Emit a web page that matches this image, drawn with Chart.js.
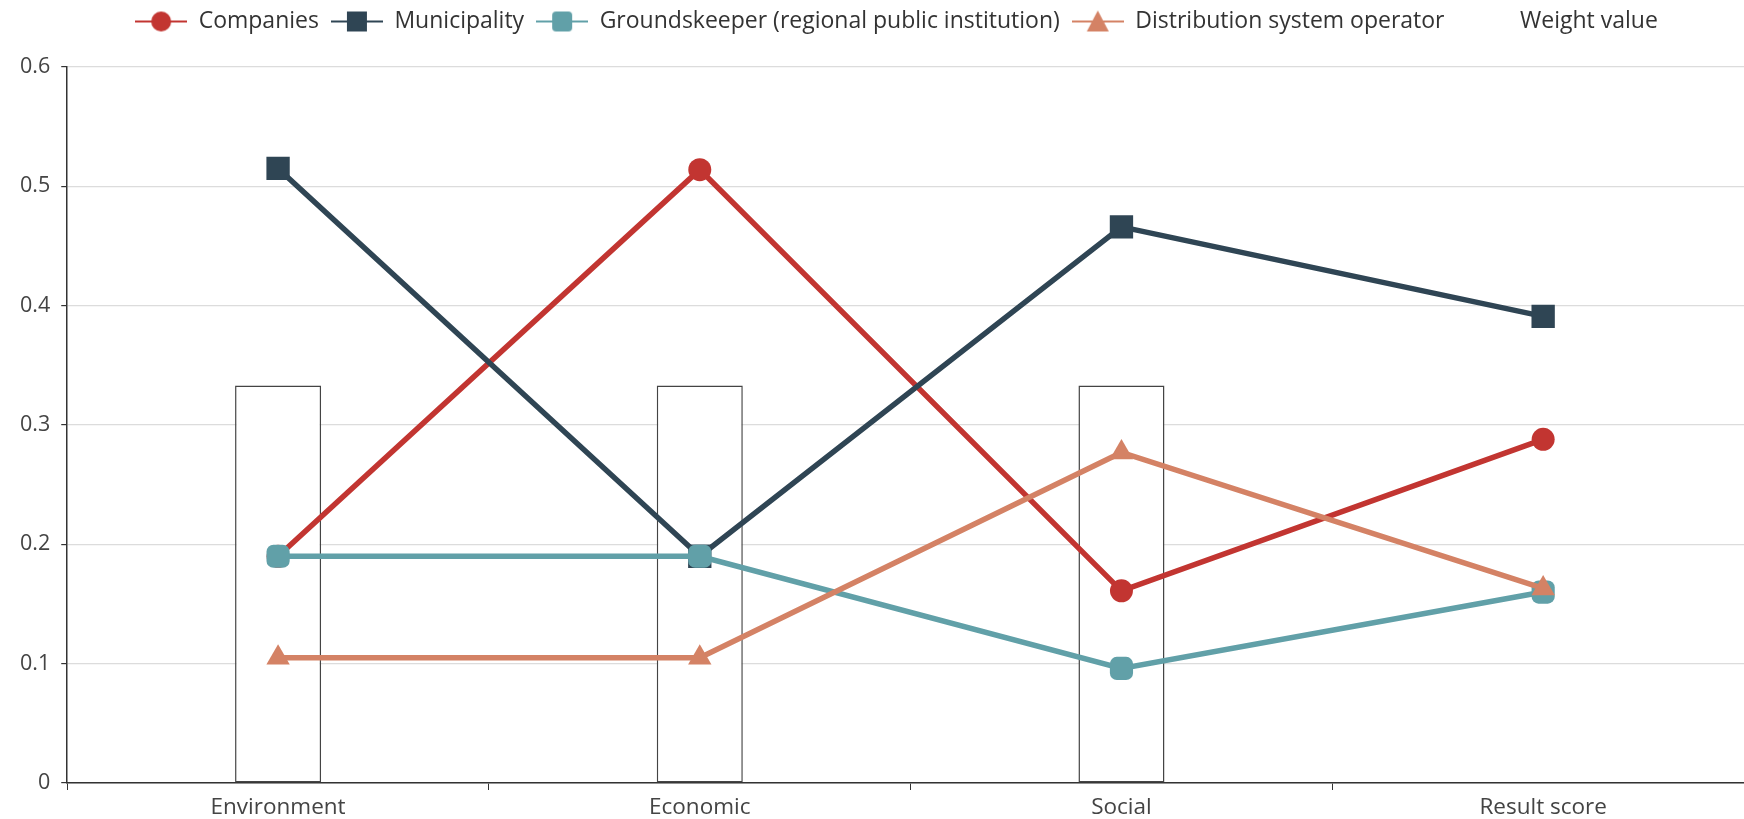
<!DOCTYPE html>
<html>
<head>
<meta charset="utf-8">
<script src="https://cdn.jsdelivr.net/npm/chart.js@4.4.1/dist/chart.umd.min.js"></script>
<style>
  html, body { margin: 0; padding: 0; background: #fff; overflow: hidden; }
  #wrap { width: 1744px; height: 819px; overflow: hidden; position: relative; }
  #box { width: 1792px; height: 827px; position: absolute; left: 0; top: -2px; }
</style>
</head>
<body>
<div id="wrap"><div id="box"><canvas id="chart"></canvas></div></div>
<script>
"use strict";

var categories = ["Environment", "Economic", "Social", "Result score"];
var companies = [0.190, 0.514, 0.161, 0.288];
var municipality = [0.515, 0.190, 0.466, 0.391];
var groundskeeper = [0.190, 0.190, 0.096, 0.160];
var dso = [0.105, 0.105, 0.277, 0.163];
var weight_value = [0.333, 0.333, 0.333, null];

var colors = {
  red: "#c23531",
  navy: "#2f4554",
  teal: "#61a0a8",
  orange: "#d48265"
};

var font_family = "'Open Sans', sans-serif";
var icon_w = 52;

// legend icon: thin line with the marker on top
function legend_icon(color, shape) {
  var c = document.createElement("canvas");
  c.width = icon_w;
  c.height = 24;
  var ctx = c.getContext("2d");
  if (!color) return c;
  var mid = icon_w / 2;
  ctx.strokeStyle = color;
  ctx.fillStyle = color;
  ctx.lineWidth = 2;
  ctx.beginPath();
  ctx.moveTo(0, 12);
  ctx.lineTo(icon_w, 12);
  ctx.stroke();
  ctx.beginPath();
  if (shape == "circle") {
    ctx.arc(mid, 12, 10, 0, Math.PI * 2);
  } else if (shape == "rect") {
    ctx.rect(mid - 10, 2, 20, 20);
  } else if (shape == "rectRounded") {
    ctx.roundRect(mid - 10, 2, 20, 20, 4);
  } else if (shape == "triangle") {
    ctx.moveTo(mid, 1);
    ctx.lineTo(mid + 11, 22);
    ctx.lineTo(mid - 11, 22);
    ctx.closePath();
  }
  ctx.fill();
  return c;
}

function line_set(label, data, color, shape, radius, order) {
  return {
    type: "line",
    label: label,
    data: data,
    borderColor: color,
    backgroundColor: color,
    borderWidth: 5.5,
    pointStyle: shape,
    pointRadius: radius,
    pointHoverRadius: radius,
    pointBorderWidth: 0,
    fill: false,
    tension: 0,
    order: order,
    legendIcon: legend_icon(color, shape)
  };
}

var datasets = [
  line_set("Companies", companies, colors.red, "circle", 11.5, 4),
  line_set("Municipality", municipality, colors.navy, "rect", 16.5, 3),
  line_set("Groundskeeper (regional public institution)", groundskeeper, colors.teal, "rectRounded", 13.5, 2),
  line_set("Distribution system operator", dso, colors.orange, "triangle", 13.5, 1),
  {
    type: "bar",
    label: "Weight value",
    data: weight_value,
    backgroundColor: "#ffffff",
    borderColor: "#444444",
    borderWidth: 1.5,
    borderSkipped: false,
    categoryPercentage: 0.204,
    barPercentage: 1,
    order: 5,
    legendIcon: legend_icon(null)
  }
];

// extra room under the legend, and nudge it right
var legend_gap = {
  id: "legend_gap",
  beforeInit: function(chart) {
    var fit = chart.legend.fit;
    chart.legend.fit = function() {
      fit.bind(chart.legend)();
      this.height += 24;
    };
  },
  afterLayout: function(chart) {
    chart.legend.left += 15;
    chart.legend.right += 15;
  }
};

var chart = new Chart(document.getElementById("chart"), {
  data: { labels: categories, datasets: datasets },
  plugins: [legend_gap],
  options: {
    responsive: true,
    maintainAspectRatio: false,
    animation: false,
    layout: { padding: { top: 0, right: 38, left: 9, bottom: 0 } },
    plugins: {
      tooltip: { enabled: false },
      legend: {
        position: "top",
        labels: {
          usePointStyle: true,
          pointStyleWidth: icon_w,
          padding: 12,
          color: "#333",
          font: { family: font_family, size: 23 },
          generateLabels: function(ch) {
            return ch.data.datasets.map(function(ds, i) {
              return {
                text: ds.label,
                pointStyle: ds.legendIcon,
                fillStyle: "#fff",
                strokeStyle: "#fff",
                lineWidth: 0,
                hidden: false,
                datasetIndex: i,
                fontColor: "#333"
              };
            });
          }
        }
      }
    },
    scales: {
      x: {
        offset: true,
        grid: {
          offset: true,
          drawOnChartArea: false,
          tickLength: 7,
          tickColor: "#333"
        },
        border: { color: "#333", width: 1.5 },
        ticks: { color: "#444", padding: 4, font: { family: font_family, size: 22.5 } }
      },
      y: {
        min: 0,
        max: 0.6,
        ticks: {
          stepSize: 0.1,
          color: "#444",
          padding: 11,
          font: { family: font_family, size: 21.5 }
        },
        grid: { color: "#dcdcdc", lineWidth: 1.2, tickLength: 6, tickColor: "#333" },
        border: { color: "#333", width: 1.5 }
      }
    }
  }
});
</script>
</body>
</html>
